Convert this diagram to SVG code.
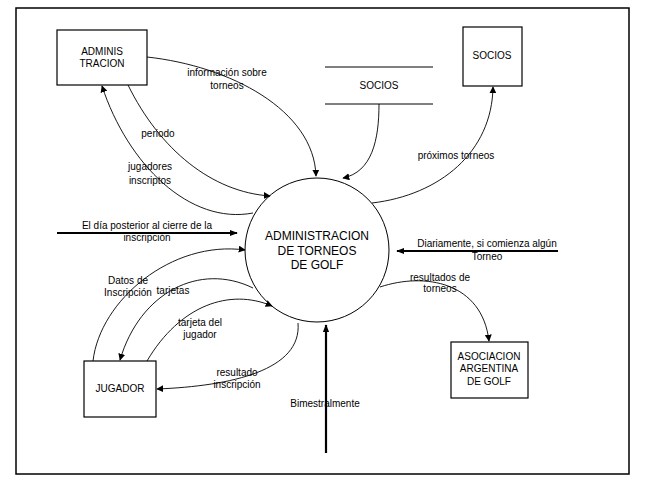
<svg xmlns="http://www.w3.org/2000/svg" width="647" height="484" viewBox="0 0 647 484">
<style>
.box{fill:#fff;stroke:#000;stroke-width:1.2}
.t{font-family:"Liberation Sans",Arial,sans-serif;font-size:10px;fill:#000;text-anchor:middle}
.big{font-size:12px}
.c{fill:none;stroke:#000;stroke-width:0.9}
.thick{fill:none;stroke:#000;stroke-width:2.2}
</style>
<defs>
<marker id="a" viewBox="0 0 10 10" refX="9" refY="5" markerWidth="7" markerHeight="7" markerUnits="userSpaceOnUse" orient="auto">
<path d="M0,0 L10,5 L0,10 z" fill="#000"/>
</marker>
<marker id="b" viewBox="0 0 10 10" refX="9" refY="5" markerWidth="8" markerHeight="8" markerUnits="userSpaceOnUse" orient="auto">
<path d="M0,1 L10,5 L0,9 z" fill="#000"/>
</marker>
</defs>
<rect width="647" height="484" fill="#fff"/>
<rect x="16" y="8" width="613" height="466" fill="none" stroke="#000" stroke-width="1.5"/>

<g id="connectors">
<path class="c" d="M147,57 C230,66 314,110 316,176" marker-end="url(#a)"/>
<path class="c" d="M128,85 C160,150 212,192 270,196" marker-end="url(#a)"/>
<path class="c" d="M253,213 C190,225 128,165 102,86" marker-end="url(#a)"/>
<path class="c" d="M379,104 C379,140 372,172 343,178" marker-end="url(#a)"/>
<path class="c" d="M372,203 C440,195 492,152 493,87" marker-end="url(#a)"/>
<path class="thick" d="M57,233 L237,233" marker-end="url(#b)"/>
<path class="thick" d="M558,251 L397,251" marker-end="url(#b)"/>
<path class="c" d="M380,287 C425,272 482,282 489,341" marker-end="url(#a)"/>
<path class="c" d="M93,361 C100,300 172,240 245,250" marker-end="url(#a)"/>
<path class="c" d="M253,288 C200,262 140,292 120,360" marker-end="url(#a)"/>
<path class="c" d="M147,361 C180,305 230,288 272,306" marker-end="url(#a)"/>
<path class="c" d="M298,323 C302,370 232,386 157,389" marker-end="url(#a)"/>
<text class="t" x="325" y="407">Bimestralmente</text>
<path class="thick" d="M326,453 L326,325" marker-end="url(#b)"/>
<text class="t" x="227" y="76">información sobre</text>
<text class="t" x="227" y="89">torneos</text>
<text class="t" x="158" y="137">periodo</text>
<text class="t" x="150" y="170">jugadores</text>
<text class="t" x="150" y="184">inscriptos</text>
<text class="t" x="456" y="159">próximos torneos</text>
<text class="t" x="147" y="229">El día posterior al cierre de la</text>
<text class="t" x="147" y="241">inscripción</text>
<text class="t" x="487" y="247">Diariamente, si comienza algún</text>
<text class="t" x="487" y="260">Torneo</text>
<text class="t" x="440" y="281">resultados de</text>
<text class="t" x="440" y="292">torneos</text>
<text class="t" x="128" y="284">Datos de</text>
<text class="t" x="128" y="296">Inscripción</text>
<text class="t" x="173" y="294">tarjetas</text>
<text class="t" x="200" y="326">tarjeta del</text>
<text class="t" x="200" y="338">jugador</text>
<text class="t" x="237" y="376">resultado</text>
<text class="t" x="237" y="388">inscripción</text>
</g>

<g id="proc">
<circle cx="317" cy="250" r="72" fill="none" stroke="#000" stroke-width="1"/>
<text class="t big" x="317" y="240">ADMINISTRACION</text>
<text class="t big" x="317" y="255">DE TORNEOS</text>
<text class="t big" x="317" y="269">DE GOLF</text>
</g>
<g id="admin">
<rect class="box" x="57" y="30" width="90" height="55"/>
<text class="t" x="102" y="55">ADMINIS</text>
<text class="t" x="102" y="67">TRACION</text>
</g>
<g id="store">
<line x1="325" y1="67" x2="433" y2="67" stroke="#000" stroke-width="1"/>
<line x1="325" y1="104" x2="433" y2="104" stroke="#000" stroke-width="1"/>
<text class="t" x="379" y="89">SOCIOS</text>
</g>
<g id="socios">
<rect class="box" x="463" y="27" width="59" height="59"/>
<text class="t" x="492" y="59">SOCIOS</text>
</g>
<g id="jugador">
<rect class="box" x="84" y="361" width="72" height="56"/>
<text class="t" x="120" y="392">JUGADOR</text>
</g>
<g id="aag">
<rect class="box" x="451" y="342" width="77" height="56"/>
<text class="t" x="489" y="360">ASOCIACION</text>
<text class="t" x="489" y="372">ARGENTINA</text>
<text class="t" x="489" y="385">DE GOLF</text>
</g>
</svg>
